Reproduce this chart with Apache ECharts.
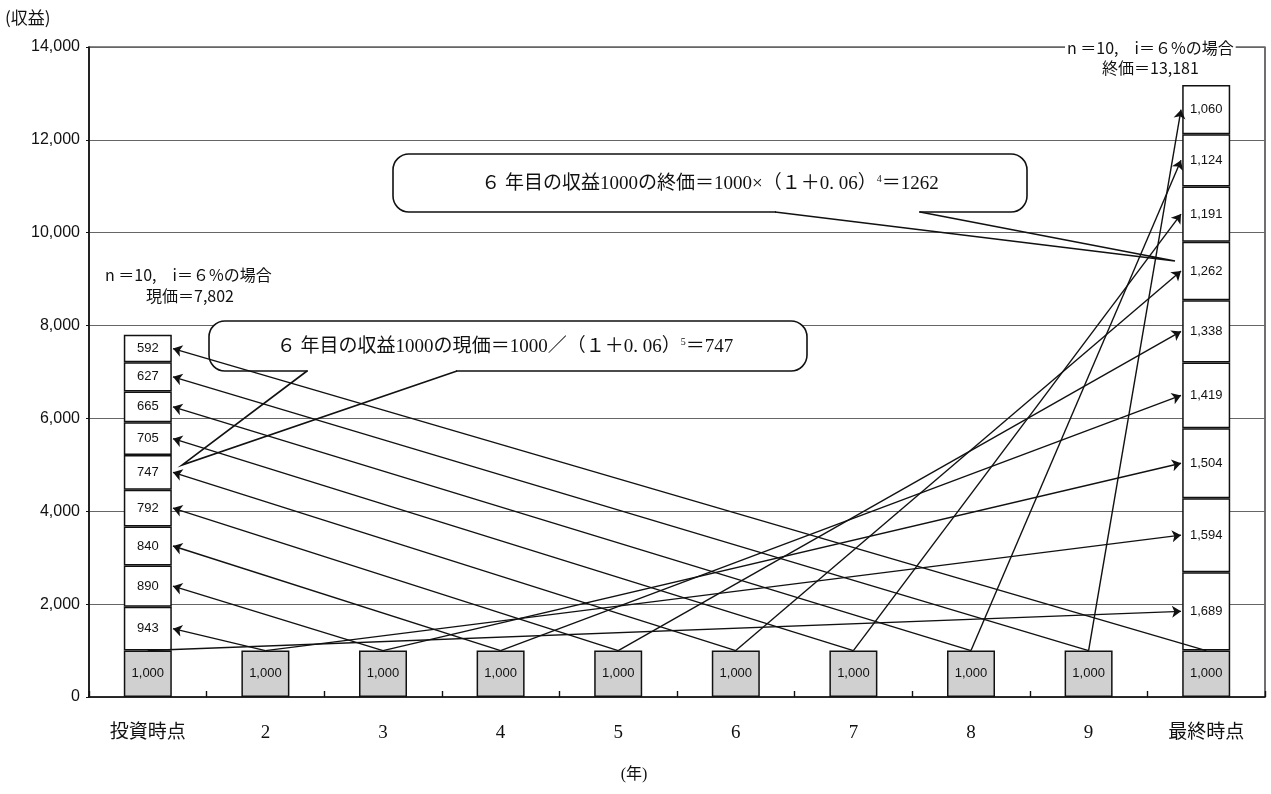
<!DOCTYPE html>
<html><head><meta charset="utf-8">
<script src="https://cdn.jsdelivr.net/npm/echarts@6/dist/echarts.min.js"></script>
<style>html,body{margin:0;padding:0;background:#fff}#c{width:1271px;height:794px}</style>
</head><body><div id="c"></div>
<script>
// ---- data ----
const categories = ['投資時点', '2', '3', '4', '5', '6', '7', '8', '9', '最終時点'];
const yearIncome = [1000, 1000, 1000, 1000, 1000, 1000, 1000, 1000, 1000, 1000];
const presentValues = [943, 890, 840, 792, 747, 705, 665, 627, 592];      // bottom -> top at 投資時点
const futureValues = [1689, 1594, 1504, 1419, 1338, 1262, 1191, 1124, 1060]; // bottom -> top at 最終時点
const presentTotalText = '現価＝7,802';
const futureTotalText = '終価＝13,181';
const yMin = 0, yMax = 14000, yStep = 2000;

// ---- chart ----
const chart = echarts.init(document.getElementById('c'), null, { renderer: 'canvas' });
const G = { left: 89, right: 6, top: 47, bottom: 97 };
const W = 1271;
const barW = 48;
const catW = (W - G.left - G.right) / categories.length;
const hw = (barW / 2) / catW + 0.01;
const last = categories.length - 1;
const fmt = v => Number(v).toLocaleString('en-US');
const serif = '"Liberation Serif", "Noto Sans CJK JP", serif';
const sans = '"Noto Sans CJK JP", "Liberation Sans", sans-serif';

const labelStyle = { show: true, position: 'inside', formatter: p => fmt(p.value), color: '#111', fontSize: 13, fontFamily: '"Liberation Sans", sans-serif' };

const series = [];
series.push({
  type: 'bar', name: '収益', data: yearIncome, stack: 'v', barWidth: barW,
  itemStyle: { color: '#d0d0d0', borderColor: '#111', borderWidth: 1.5 },
  label: labelStyle, z: 2
});
for (let j = 0; j < presentValues.length; j++) {
  const d = categories.map((c, i) => i === 0 ? presentValues[j] : (i === last ? futureValues[j] : '-'));
  series.push({
    type: 'bar', data: d, stack: 'v', barWidth: barW,
    itemStyle: { color: '#fff', borderColor: '#111', borderWidth: 1.5 },
    label: labelStyle, z: 2
  });
}
// arrows: each year's income -> its present value (left) and future value (right)
const arrows = [];
let cum = yearIncome[0];
presentValues.forEach((v, j) => {
  const mid = cum + v / 2; cum += v;
  arrows.push({ coords: [[j + 1, yearIncome[j + 1]], [hw, mid]] });
});
cum = yearIncome[last];
futureValues.forEach((v, j) => {
  const mid = cum + v / 2; cum += v;
  arrows.push({ coords: [[j, yearIncome[j]], [last - hw, mid]] });
});
series.push({
  type: 'lines', coordinateSystem: 'cartesian2d', xAxisIndex: 1, yAxisIndex: 0,
  data: arrows, symbol: ['none', 'arrow'], symbolSize: 9,
  lineStyle: { color: '#111', width: 1.4, opacity: 1, curveness: 0 },
  silent: true, z: 6
});

function bubble(x0, y0, x1, y1, tA, tB, tip) {
  return [
    { type: 'rect', z: 4, shape: { x: x0, y: y0, width: x1 - x0, height: y1 - y0, r: 16 },
      style: { fill: '#fff', stroke: '#111', lineWidth: 1.6 } },
    { type: 'line', z: 4, shape: { x1: tA + 1, y1: y1, x2: tB - 1, y2: y1 },
      style: { stroke: '#fff', lineWidth: 3 } },
    { type: 'polyline', z: 4, shape: { points: [[tA, y1], tip, [tB, y1]] },
      style: { fill: null, stroke: '#111', lineWidth: 1.6 } }
  ];
}
function bubbleText(cx, cy, main, sup, tail) {
  return {
    type: 'text', z: 5, x: cx, y: cy,
    style: {
      text: '{a|' + main + '}{s|' + sup + '}{a|' + tail + '}',
      align: 'center', verticalAlign: 'middle',
      rich: {
        a: { fontSize: 19, fontFamily: serif, fill: '#111', color: '#111' },
        s: { fontSize: 10, fontFamily: serif, fill: '#111', color: '#111', padding: [0, 0, 10, 0] }
      }
    }
  };
}
function note(x, y, text, align) {
  return { type: 'text', z: 5, x: x, y: y,
    style: { text: text, align: align || 'left', verticalAlign: 'middle', fontSize: 16, fontFamily: sans, fill: '#111',
      backgroundColor: '#fff', padding: [1, 2] } };
}

const graphics = [].concat(
  bubble(393, 154, 1027, 212, 775, 920, [1175, 261]),
  [bubbleText(710, 184, '６ 年目の収益1000の終価＝1000×（１＋0. 06）', '4', '＝1262')],
  bubble(209, 321, 807, 371, 307, 457, [182, 465]),
  [bubbleText(505, 347, '６ 年目の収益1000の現価＝1000／（１＋0. 06）', '5', '＝747')],
  [note(103, 275, 'n ＝10,　i＝６%の場合'), note(144, 296, presentTotalText),
   note(1065, 48, 'n ＝10,　i＝６%の場合'), note(1100, 68, futureTotalText),
   { type: 'text', z: 5, x: 5, y: 18, style: { text: '(収益)', fontSize: 17, fontFamily: sans, fill: '#111', align: 'left', verticalAlign: 'middle' } },
   { type: 'text', z: 5, x: 634, y: 775, style: { text: '(年)', fontSize: 16, fontFamily: serif, fill: '#111', align: 'center', verticalAlign: 'middle' } }]
);

chart.setOption({
  animation: false,
  backgroundColor: '#fff',
  grid: { left: G.left, right: G.right, top: G.top, bottom: G.bottom, show: true, borderColor: '#111', borderWidth: 1.2, containLabel: false },
  xAxis: [
    { type: 'category', data: categories, boundaryGap: true,
      axisLine: { onZero: false, lineStyle: { color: '#111', width: 1.6 } },
      axisTick: { show: true, inside: true, length: 6, lineStyle: { color: '#111', width: 1.4 } },
      axisLabel: { fontSize: 19, color: '#111', margin: 27, fontFamily: serif },
      splitLine: { show: false } },
    { type: 'value', min: -0.5, max: last + 0.5, show: false, axisLine: { onZero: false }, splitLine: { show: false } }
  ],
  yAxis: [{ type: 'value', min: yMin, max: yMax, interval: yStep,
    axisLine: { show: true, onZero: false, lineStyle: { color: '#111', width: 1.6 } },
    axisTick: { show: true, length: 3, lineStyle: { color: '#111' } },
    axisLabel: { fontSize: 16, color: '#111', margin: 9, formatter: v => fmt(v), fontFamily: '"Liberation Sans", sans-serif' },
    splitLine: { show: true, lineStyle: { color: '#666', width: 1 } } }],
  series: series,
  graphic: { elements: graphics }
});
</script></body></html>
